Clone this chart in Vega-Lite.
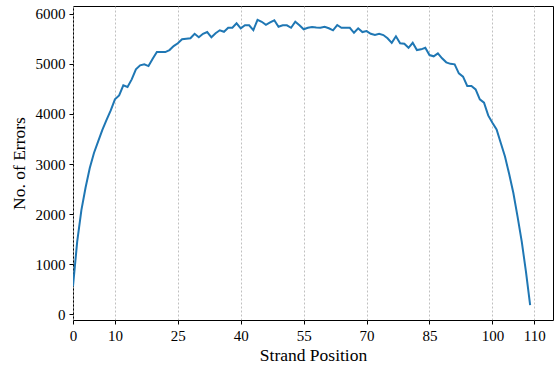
{
  "$schema": "https://vega.github.io/schema/vega-lite/v6.json",
  "width": 480,
  "height": 314,
  "autosize": {"type": "none"},
  "padding": {"left": 73, "top": 6, "right": 1, "bottom": 49},
  "background": "white",
  "config": {
    "font": "Liberation Serif",
    "view": {"stroke": "black", "strokeWidth": 1},
    "axis": {
      "domain": false,
      "tickColor": "black",
      "tickSize": 4,
      "tickWidth": 1,
      "labelColor": "black",
      "labelFontSize": 15,
      "labelFont": "Liberation Serif",
      "titleFont": "Liberation Serif",
      "titleFontSize": 17.5,
      "titleFontWeight": "normal",
      "titleColor": "black"
    }
  },
  "data": {
    "values": [
      {"pos": 0, "errors": 560}, {"pos": 1, "errors": 1450}, {"pos": 2, "errors": 2080},
      {"pos": 3, "errors": 2530}, {"pos": 4, "errors": 2920}, {"pos": 5, "errors": 3220},
      {"pos": 6, "errors": 3450}, {"pos": 7, "errors": 3680}, {"pos": 8, "errors": 3880},
      {"pos": 9, "errors": 4070}, {"pos": 10, "errors": 4290}, {"pos": 11, "errors": 4370},
      {"pos": 12, "errors": 4570}, {"pos": 13, "errors": 4537}, {"pos": 14, "errors": 4690},
      {"pos": 15, "errors": 4890}, {"pos": 16, "errors": 4970}, {"pos": 17, "errors": 4990},
      {"pos": 18, "errors": 4955}, {"pos": 19, "errors": 5100}, {"pos": 20, "errors": 5235},
      {"pos": 21, "errors": 5235}, {"pos": 22, "errors": 5235}, {"pos": 23, "errors": 5275},
      {"pos": 24, "errors": 5355}, {"pos": 25, "errors": 5410}, {"pos": 26, "errors": 5490},
      {"pos": 27, "errors": 5500}, {"pos": 28, "errors": 5510}, {"pos": 29, "errors": 5600},
      {"pos": 30, "errors": 5530}, {"pos": 31, "errors": 5600}, {"pos": 32, "errors": 5635},
      {"pos": 33, "errors": 5530}, {"pos": 34, "errors": 5610}, {"pos": 35, "errors": 5670},
      {"pos": 36, "errors": 5640}, {"pos": 37, "errors": 5720}, {"pos": 38, "errors": 5720},
      {"pos": 39, "errors": 5810}, {"pos": 40, "errors": 5710}, {"pos": 41, "errors": 5770},
      {"pos": 42, "errors": 5770}, {"pos": 43, "errors": 5675}, {"pos": 44, "errors": 5880},
      {"pos": 45, "errors": 5840}, {"pos": 46, "errors": 5780}, {"pos": 47, "errors": 5830},
      {"pos": 48, "errors": 5870}, {"pos": 49, "errors": 5740}, {"pos": 50, "errors": 5770},
      {"pos": 51, "errors": 5770}, {"pos": 52, "errors": 5720}, {"pos": 53, "errors": 5840},
      {"pos": 54, "errors": 5770}, {"pos": 55, "errors": 5690}, {"pos": 56, "errors": 5720},
      {"pos": 57, "errors": 5735}, {"pos": 58, "errors": 5725}, {"pos": 59, "errors": 5720},
      {"pos": 60, "errors": 5740}, {"pos": 61, "errors": 5710}, {"pos": 62, "errors": 5670},
      {"pos": 63, "errors": 5775}, {"pos": 64, "errors": 5720}, {"pos": 65, "errors": 5720},
      {"pos": 66, "errors": 5720}, {"pos": 67, "errors": 5620}, {"pos": 68, "errors": 5710},
      {"pos": 69, "errors": 5635}, {"pos": 70, "errors": 5655}, {"pos": 71, "errors": 5600},
      {"pos": 72, "errors": 5575}, {"pos": 73, "errors": 5600}, {"pos": 74, "errors": 5575},
      {"pos": 75, "errors": 5510}, {"pos": 76, "errors": 5420}, {"pos": 77, "errors": 5550},
      {"pos": 78, "errors": 5410}, {"pos": 79, "errors": 5400}, {"pos": 80, "errors": 5320},
      {"pos": 81, "errors": 5420}, {"pos": 82, "errors": 5275}, {"pos": 83, "errors": 5290},
      {"pos": 84, "errors": 5320}, {"pos": 85, "errors": 5175}, {"pos": 86, "errors": 5150},
      {"pos": 87, "errors": 5210}, {"pos": 88, "errors": 5110}, {"pos": 89, "errors": 5030},
      {"pos": 90, "errors": 5000}, {"pos": 91, "errors": 4990}, {"pos": 92, "errors": 4810},
      {"pos": 93, "errors": 4745}, {"pos": 94, "errors": 4560}, {"pos": 95, "errors": 4560},
      {"pos": 96, "errors": 4490}, {"pos": 97, "errors": 4290}, {"pos": 98, "errors": 4225},
      {"pos": 99, "errors": 3970}, {"pos": 100, "errors": 3825}, {"pos": 101, "errors": 3690},
      {"pos": 102, "errors": 3420}, {"pos": 103, "errors": 3150}, {"pos": 104, "errors": 2800},
      {"pos": 105, "errors": 2420}, {"pos": 106, "errors": 1950}, {"pos": 107, "errors": 1450},
      {"pos": 108, "errors": 850}, {"pos": 109, "errors": 180}
    ]
  },
  "mark": {"type": "line", "color": "#1f77b4", "strokeWidth": 2, "clip": true},
  "encoding": {
    "x": {
      "field": "pos",
      "type": "quantitative",
      "scale": {"domain": [0, 114.45], "nice": false, "zero": false},
      "axis": {
        "title": "Strand Position",
        "values": [0, 10, 25, 40, 55, 70, 85, 100, 110],
        "format": "d",
        "grid": true,
        "gridColor": "#b0b0b0",
        "gridDash": [2, 2],
        "gridWidth": 0.8,
        "labelPadding": 4,
        "titlePadding": 3,
        "labelFlush": false
      }
    },
    "y": {
      "field": "errors",
      "type": "quantitative",
      "scale": {"domain": [-115, 6155], "nice": false, "zero": false},
      "axis": {
        "title": "No. of Errors",
        "values": [0, 1000, 2000, 3000, 4000, 5000, 6000],
        "format": "d",
        "grid": false,
        "labelPadding": 4,
        "titlePadding": 7
      }
    }
  }
}
